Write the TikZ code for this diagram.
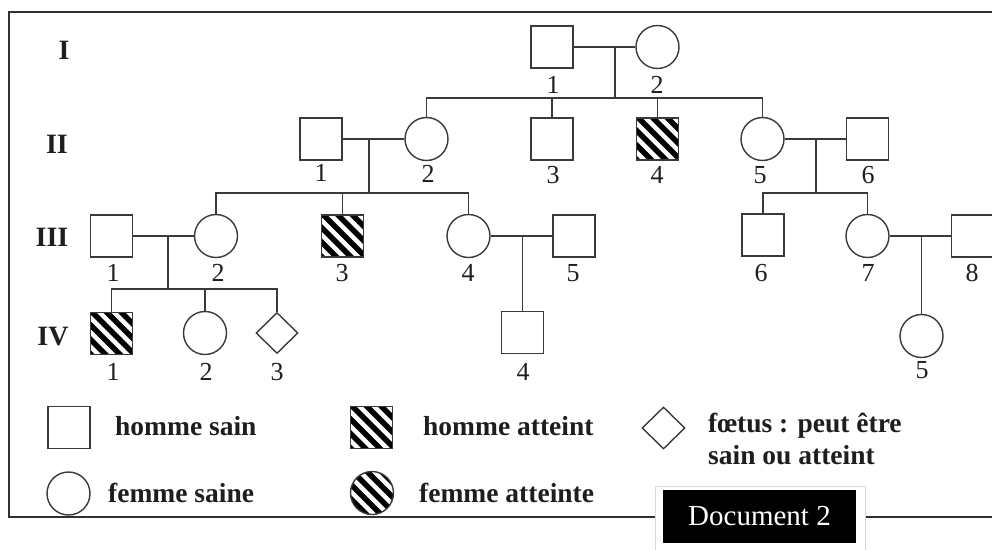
\documentclass[tikz,border=0pt]{standalone}
\usepackage{fontspec}
\setmainfont{Liberation Serif}
\usetikzlibrary{shapes.geometric,calc}
\definecolor{ln}{HTML}{3A3A3A}
\definecolor{tx}{HTML}{1E1E1E}
\definecolor{fr}{HTML}{303030}
\begin{document}
\begin{tikzpicture}[x=1pt,y=-1pt,
 ind/.style={draw=ln, line width=1.4pt, inner sep=0pt, fill=white},
 male/.style={ind, rectangle, minimum size=42pt},
 female/.style={ind, circle, minimum size=43pt},
 fetus/.style={ind, diamond, minimum width=42pt, minimum height=41pt},
 hatched/.style={path picture={\foreach \k in {-5,...,5}{\draw[line width=5.4pt,black] ($(path picture bounding box.center)+(\k*14.5-33,-35)$) -- ++(70,70);}}},
 link/.style={draw=ln, line width=1.4pt},
 num/.style={font=\fontsize{26}{26}\selectfont, text=tx, inner sep=0pt},
 gen/.style={font=\fontsize{28}{28}\selectfont\bfseries, text=tx, inner sep=0pt},
 leg/.style={font=\fontsize{27.5}{32}\selectfont\bfseries, text=tx, inner sep=0pt, anchor=west, align=left},
]
\clip (0,0) rectangle (992,549);
\fill[white] (0,0) rectangle (992,549);

% frame
\draw[line width=2pt, draw=fr] (1000,12) -- (8.5,12) -- (8.5,517) -- (655,517);
\draw[line width=2pt, draw=fr] (865,517) -- (1000,517);

% generation labels
\node[gen] (gI) at (64,50) {I};
\node[gen] (gII) at (57,144) {II};
\node[gen] (gIII) at (52,237) {III};
\node[gen] (gIV) at (53,337) {IV};

% generation I
\node[male] (I1) at (552,47) {};
\node[female] (I2) at (657.5,47) {};
\node[num] (lI1) at (553,85) {1};
\node[num] (lI2) at (657,85) {2};

% generation II
\node[male] (II1) at (321,139) {};
\node[female] (II2) at (426.5,139) {};
\node[male] (II3) at (552,139) {};
\node[male,hatched] (II4) at (657.5,139) {};
\node[female] (II5) at (762.5,139) {};
\node[male] (II6) at (867.5,139) {};
\node[num] (lII1) at (321,173) {1};
\node[num] (lII2) at (428,174) {2};
\node[num] (lII3) at (553,175) {3};
\node[num] (lII4) at (657,175) {4};
\node[num] (lII5) at (760,175) {5};
\node[num] (lII6) at (868,175) {6};

% generation III
\node[male] (III1) at (111.5,236) {};
\node[female] (III2) at (216,236) {};
\node[male,hatched] (III3) at (342.5,236) {};
\node[female] (III4) at (468.5,236) {};
\node[male] (III5) at (574,236) {};
\node[male] (III6) at (763,235) {};
\node[female] (III7) at (867.5,236) {};
\node[male] (III8) at (972.5,236) {};
\node[num] (lIII1) at (113,273) {1};
\node[num] (lIII2) at (218,273) {2};
\node[num] (lIII3) at (342,273) {3};
\node[num] (lIII4) at (468,273) {4};
\node[num] (lIII5) at (573,273) {5};
\node[num] (lIII6) at (761,273) {6};
\node[num] (lIII7) at (868,273) {7};
\node[num] (lIII8) at (972,273) {8};

% generation IV
\node[male,hatched] (IV1) at (111.5,333.5) {};
\node[female] (IV2) at (205,333) {};
\node[fetus] (IV3) at (277,333) {};
\node[male] (IV4) at (522.5,332.5) {};
\node[female] (IV5) at (921.5,336) {};
\node[num] (lIV1) at (113,372) {1};
\node[num] (lIV2) at (206,372) {2};
\node[num] (lIV3) at (277,372) {3};
\node[num] (lIV4) at (523,372) {4};
\node[num] (lIV5) at (922,370) {5};

% couple I1 x I2
\coordinate (j1) at (615,47);
\coordinate (s1) at (615,98);
\draw[link] (I1.east) -- (I2.west);
\draw[link] (j1) -- (s1);
\draw[link] (II2.north) -- (II2.north |- s1) -- (II5.north |- s1) -- (II5.north);
\draw[link] (II3.north) -- (II3.north |- s1);
\draw[link] (II4.north) -- (II4.north |- s1);

% couple II1 x II2
\coordinate (j2) at (369,139);
\coordinate (s2) at (369,193);
\draw[link] (II1.east) -- (II2.west);
\draw[link] (j2) -- (s2);
\draw[link] (III2.north) -- (III2.north |- s2) -- (III4.north |- s2) -- (III4.north);
\draw[link] (III3.north) -- (III3.north |- s2);

% couple II5 x II6
\coordinate (j3) at (816,139);
\coordinate (s3) at (816,193);
\draw[link] (II5.east) -- (II6.west);
\draw[link] (j3) -- (s3);
\draw[link] (III6.north) -- (III6.north |- s3) -- (III7.north |- s3) -- (III7.north);

% couple III1 x III2
\coordinate (j4) at (168,236);
\coordinate (s4) at (168,289);
\draw[link] (III1.east) -- (III2.west);
\draw[link] (j4) -- (s4);
\draw[link] (IV1.north) -- (IV1.north |- s4) -- (IV3.north |- s4) -- (IV3.north);
\draw[link] (IV2.north) -- (IV2.north |- s4);

% couple III4 x III5
\draw[link] (III4.east) -- (III5.west);
\draw[link] (IV4.north |- III4.east) -- (IV4.north);

% couple III7 x III8
\draw[link] (III7.east) -- (III8.west);
\draw[link] (IV5.north |- III7.east) -- (IV5.north);

% legend
\node[male] (Lsq) at (69,427.5) {};
\node[female] (Lci) at (68.5,493.5) {};
\node[male,hatched] (Lhsq) at (371.5,427.5) {};
\node[female,hatched] (Lhci) at (372,493) {};
\node[fetus, minimum width=43pt, minimum height=42pt] (Ldi) at (663.5,428) {};
\node[leg] (t1) at (115,426) {homme sain};
\node[leg] (t2) at (108,493) {femme saine};
\node[leg] (t3) at (423,426) {homme atteint};
\node[leg] (t4) at (419,493) {femme atteinte};
\node[leg] (t5) at (708,439) {fœtus : peut être\\sain ou atteint};

% document label
\node[fill=white, draw=gray!30, line width=1pt, minimum width=210pt, minimum height=66pt, anchor=north west, inner sep=0pt] (docbg) at (655,486) {};
\node[fill=black, text=white, minimum width=193pt, minimum height=53pt, inner sep=0pt, font=\fontsize{29}{29}\selectfont] (doc) at (759.5,516.5) {Document 2};
\end{tikzpicture}
\end{document}
